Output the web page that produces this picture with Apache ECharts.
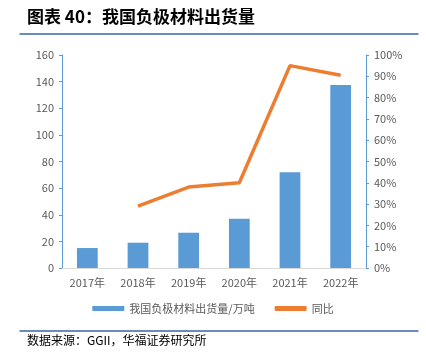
<!DOCTYPE html>
<html><head><meta charset="utf-8">
<script src="https://cdn.jsdelivr.net/npm/echarts@6/dist/echarts.min.js"></script>
<style>
html,body{margin:0;padding:0;background:#fff}
#c{width:426px;height:355px}
</style>
</head><body><div id="c"></div>
<script>
const categories = ['2017年','2018年','2019年','2020年','2021年','2022年'];
const shipments = [15, 19, 26.5, 37, 72, 137.5];
const yoy = [null, 29, 38, 40, 95, 90.5];
const leftTicks = [0,20,40,60,80,100,120,140,160];
const rightTicks = [0,10,20,30,40,50,60,70,80,90,100];

const chart = echarts.init(document.getElementById('c'), null, {renderer:'canvas'});
const font = '"Noto Sans CJK SC", "Liberation Sans", sans-serif';
const ruleAxis = (gi) => ({gridIndex:gi, type:'value', min:0, max:1, show:true,
  axisLine:{show:true, onZero:false, lineStyle:{color:'#3a66a8', width:1.5}},
  axisTick:{show:false}, axisLabel:{show:false}, splitLine:{show:false}});
const hiddenY = (gi) => ({gridIndex:gi, type:'value', show:false, min:0, max:1});
chart.setOption({
  animation:false,
  backgroundColor:'#fff',
  textStyle:{fontFamily:font},
  grid:[
    {left:62, right:60, top:55, bottom:87},
    {left:20, right:8, top:20, height:14},
    {left:20, right:8, top:317, height:14}
  ],
  graphic:{elements:[
    {type:'text', id:'title', x:27, y:8, z:100, style:{text:'图表 40：我国负极材料出货量', font:'bold 17px "Noto Sans CJK SC"', fill:'#000'}},
    {type:'text', id:'src', x:27, y:334, z:100, style:{text:'数据来源：GGII，华福证券研究所', font:'12px "Noto Sans CJK SC"', fill:'#000'}}
  ]},
  legend:{
    bottom:36, left:'center', itemGap:20, itemWidth:32, itemHeight:5,
    textStyle:{fontSize:11, color:'#595959', fontFamily:font},
    data:[{name:'我国负极材料出货量/万吨', icon:'rect'},{name:'同比', icon:'roundRect'}]
  },
  xAxis:[{
    type:'category', data:categories,
    axisLine:{lineStyle:{color:'#d9d9d9'}},
    axisTick:{show:false},
    axisLabel:{color:'#595959', fontSize:11, margin:9}
  }, ruleAxis(1), ruleAxis(2)],
  yAxis:[
    {type:'value', min:leftTicks[0], max:leftTicks[leftTicks.length-1], interval:20,
     axisLine:{show:true, lineStyle:{color:'#5b9bd5'}},
     axisTick:{show:true, length:3, lineStyle:{color:'#5b9bd5'}},
     splitLine:{show:false},
     axisLabel:{color:'#595959', fontSize:11, margin:8}},
    {type:'value', min:rightTicks[0], max:rightTicks[rightTicks.length-1], interval:10,
     axisLine:{show:true, lineStyle:{color:'#5b9bd5'}},
     axisTick:{show:true, length:3, lineStyle:{color:'#5b9bd5'}},
     splitLine:{show:false},
     axisLabel:{color:'#595959', fontSize:11, margin:8, formatter:'{value}%'}},
    hiddenY(1), hiddenY(2)
  ],
  series:[
    {name:'我国负极材料出货量/万吨', type:'bar', data:shipments, barWidth:'41%',
     itemStyle:{color:'#5b9bd5'}},
    {name:'同比', type:'line', yAxisIndex:1, data:yoy, symbol:'none',
     lineStyle:{color:'#ed7d31', width:3.5}, itemStyle:{color:'#ed7d31'}}
  ]
});
</script></body></html>
